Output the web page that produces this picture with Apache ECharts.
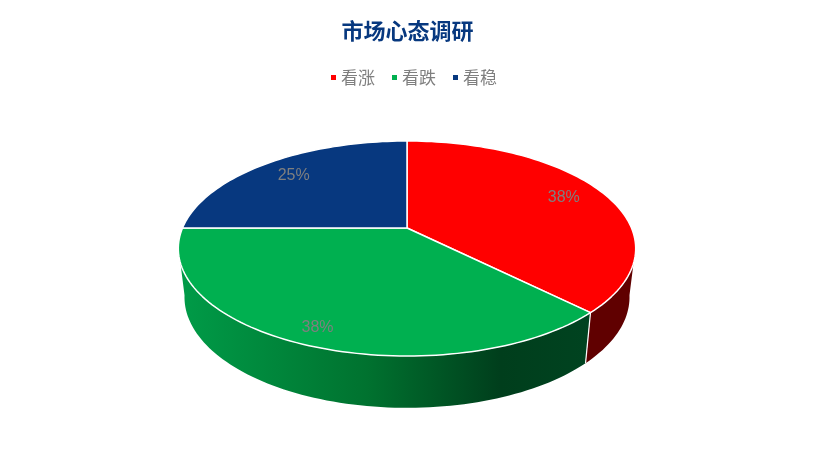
<!DOCTYPE html>
<html><head><meta charset="utf-8">
<style>html,body{margin:0;padding:0;background:#fff}#c{width:815px;height:460px}</style>
<script src="https://cdn.jsdelivr.net/npm/echarts@6/dist/echarts.min.js"></script>
</head><body><div id="c"></div>
<script>
const titleText = '市场心态调研';
const categories = ['看涨', '看跌', '看稳'];
const values = [3, 3, 2];
const topColors = ['#FF0000', '#00B050', '#07387F'];

const total = values.reduce((a, b) => a + b, 0);
const labelRadius = [0.8, 0.88, 0.79];
const cx = 407, cy = 228, ax = 224.5, by = 103.6, k = 0.1907;
const lowX = 0.973, lowY = 1.03, lowOff = 276;
const FONT = '"Noto Sans CJK SC","Noto Sans",sans-serif';

function upper(deg, r) {
  r = r === undefined ? 1 : r;
  const t = deg * Math.PI / 180, u = r * Math.sin(t), v = -r * Math.cos(t), d = 1 - k * v;
  return [cx + ax * u / d, cy + by * v / d];
}
function lower(deg) {
  const p = upper(deg);
  return [cx + (p[0] - cx) * lowX, lowOff + (p[1] - cy) * lowY];
}
function arcPts(fn, a, b) {
  const n = Math.max(2, Math.ceil(Math.abs(b - a) / 1.5)), pts = [];
  for (let i = 0; i <= n; i++) pts.push(fn(a + (b - a) * i / n));
  return pts;
}
function sideFill(i) {
  if (i === 0) return '#600000';
  return new echarts.graphic.LinearGradient(185, 0, 590, 0, [
    { offset: 0, color: '#009A47' },
    { offset: 0.45, color: '#00722F' },
    { offset: 0.78, color: '#003E1C' },
    { offset: 1, color: '#004320' }
  ], true);
}
const makeRender = (i, start, end) => function () {
  const children = [];
  const a = Math.max(start, 100), b = Math.min(end, 260);
  if (a < b) {
    const up = arcPts(upper, a, b), lo = arcPts(lower, a, b).reverse();
    children.push({ type: 'polygon', z2: 1, shape: { points: up.concat(lo) }, style: { fill: sideFill(i) } });
  }
  if (end > 100 && end < 260) {
    children.push({ type: 'line', z2: 2, shape: { x1: upper(end)[0], y1: upper(end)[1], x2: lower(end)[0], y2: lower(end)[1] },
      style: { stroke: '#fff', lineWidth: 1.2 } });
  }
  children.push({ type: 'polygon', z2: 3, shape: { points: [[cx, cy]].concat(arcPts(upper, start, end)) },
    style: { fill: topColors[i], stroke: '#fff', lineWidth: 1.5, lineJoin: 'round' } });
  const m = upper((start + end) / 2, labelRadius[i]);
  children.push({ type: 'text', z2: 4, x: m[0], y: m[1], style: {
    text: Math.round(values[i] / total * 100) + '%', fill: '#7F7F7F',
    font: '16px "Liberation Sans Narrow","Liberation Sans",sans-serif', align: 'center', verticalAlign: 'middle' } });
  return { type: 'group', children };
};
let acc = 0;
const series = categories.map((name, i) => {
  const start = acc / total * 360; acc += values[i]; const end = acc / total * 360;
  return { type: 'custom', name, coordinateSystem: 'none', data: [values[i]],
    itemStyle: { color: topColors[i] }, animation: false, silent: true, renderItem: makeRender(i, start, end) };
});
const chart = echarts.init(document.getElementById('c'), null, { renderer: 'canvas' });
chart.setOption({
  backgroundColor: '#fff', animation: false,
  title: { text: titleText, left: 'center', top: 15, textStyle: { color: '#07387F', fontSize: 22, fontWeight: 'bold', fontFamily: FONT } },
  legend: { data: categories, left: 326, top: 64, itemWidth: 5, itemHeight: 5, itemGap: 17, icon: 'rect',
    textStyle: { color: '#7F7F7F', fontSize: 17, fontFamily: FONT } },
  series
});
</script></body></html>
